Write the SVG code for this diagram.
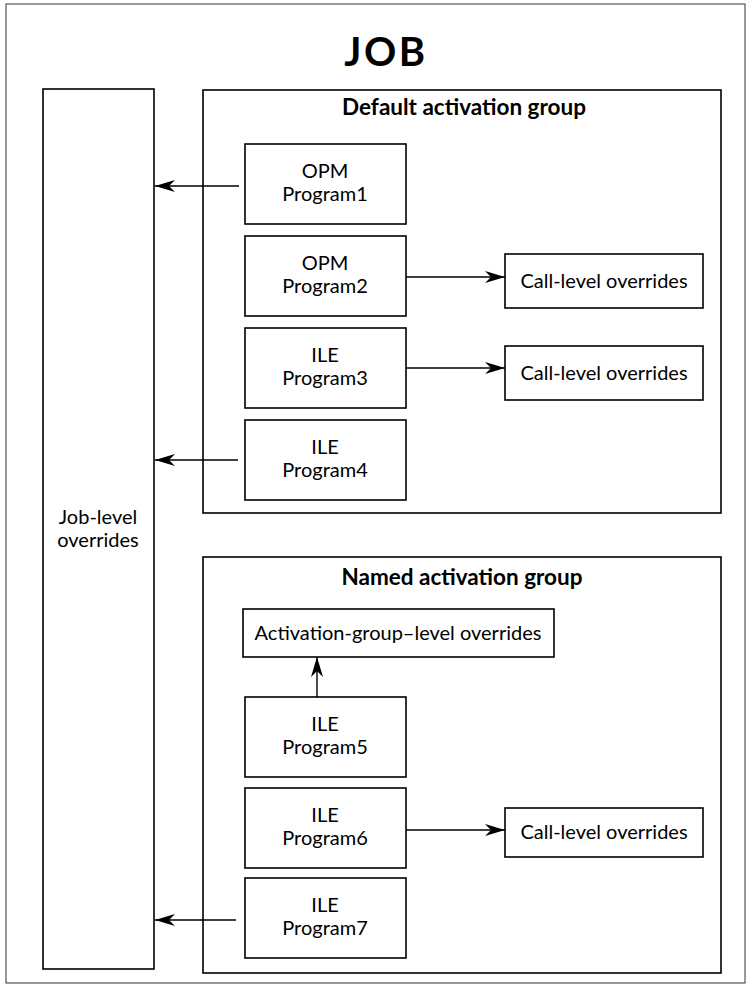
<svg xmlns="http://www.w3.org/2000/svg" width="750" height="986" viewBox="0 0 750 986">
  <style>
    text { font-family: Lato, "Open Sans", "Liberation Sans", sans-serif; fill: #000; }
    .lbl { font-size: 20px; text-anchor: middle; }
    .ttl { font-size: 22.5px; font-weight: bold; text-anchor: middle; }
    .job { font-size: 40px; font-weight: bold; text-anchor: middle; letter-spacing: 2.5px; }
    .box { fill: #fff; stroke: #000; stroke-width: 1.6; }
    .frame { fill: none; stroke: #333; stroke-width: 1; }
    .conn { fill: none; stroke: #000; stroke-width: 1.4; marker-end: url(#arrow); }
  </style>
  <defs>
    <marker id="arrow" viewBox="0 0 20 12" refX="20" refY="6" markerWidth="20" markerHeight="12" markerUnits="userSpaceOnUse" orient="auto">
      <path d="M0,0 L20,6 L0,12 L6,6 z" fill="#000"/>
    </marker>
  </defs>

  <rect width="750" height="986" fill="#fff"/>
  <!-- outer job frame -->
  <rect class="frame" x="6" y="4" width="739" height="979"/>
  <text class="job" x="386" y="66">JOB</text>

  <!-- job-level overrides column -->
  <g id="job-level">
    <rect class="box" x="43" y="89" width="111" height="880"/>
    <text class="lbl" x="98" y="524">Job-level</text>
    <text class="lbl" x="98" y="547">overrides</text>
  </g>

  <!-- default activation group -->
  <g id="default-group">
    <rect class="box" x="203" y="90" width="518" height="423"/>
    <text class="ttl" x="464" y="115">Default activation group</text>
  </g>
  <g id="program1">
    <rect class="box" x="245" y="144" width="161" height="80"/>
    <text class="lbl" x="325" y="178">OPM</text>
    <text class="lbl" x="325" y="201">Program1</text>
  </g>
  <g id="program2">
    <rect class="box" x="245" y="236" width="161" height="80"/>
    <text class="lbl" x="325" y="270">OPM</text>
    <text class="lbl" x="325" y="293">Program2</text>
  </g>
  <g id="call-overrides-2">
    <rect class="box" x="505" y="254" width="198" height="54"/>
    <text class="lbl" x="604" y="288">Call-level overrides</text>
  </g>
  <g id="program3">
    <rect class="box" x="245" y="328" width="161" height="80"/>
    <text class="lbl" x="325" y="362">ILE</text>
    <text class="lbl" x="325" y="385">Program3</text>
  </g>
  <g id="call-overrides-3">
    <rect class="box" x="505" y="346" width="198" height="54"/>
    <text class="lbl" x="604" y="380">Call-level overrides</text>
  </g>
  <g id="program4">
    <rect class="box" x="245" y="420" width="161" height="80"/>
    <text class="lbl" x="325" y="454">ILE</text>
    <text class="lbl" x="325" y="477">Program4</text>
  </g>

  <!-- named activation group -->
  <g id="named-group">
    <rect class="box" x="203" y="557" width="518" height="416"/>
    <text class="ttl" x="462" y="585">Named activation group</text>
  </g>
  <g id="group-overrides">
    <rect class="box" x="243" y="609" width="311" height="48"/>
    <text class="lbl" x="398" y="640">Activation-group–level overrides</text>
  </g>
  <g id="program5">
    <rect class="box" x="245" y="697" width="161" height="80"/>
    <text class="lbl" x="325" y="731">ILE</text>
    <text class="lbl" x="325" y="754">Program5</text>
  </g>
  <g id="program6">
    <rect class="box" x="245" y="788" width="161" height="80"/>
    <text class="lbl" x="325" y="822">ILE</text>
    <text class="lbl" x="325" y="845">Program6</text>
  </g>
  <g id="call-overrides-6">
    <rect class="box" x="505" y="808" width="198" height="49"/>
    <text class="lbl" x="604" y="839">Call-level overrides</text>
  </g>
  <g id="program7">
    <rect class="box" x="245" y="878" width="161" height="80"/>
    <text class="lbl" x="325" y="912">ILE</text>
    <text class="lbl" x="325" y="935">Program7</text>
  </g>

  <!-- connectors -->
  <g id="connectors">
    <path class="conn" d="M239,186 H155"/>
    <path class="conn" d="M406,277 H505"/>
    <path class="conn" d="M406,368 H505"/>
    <path class="conn" d="M238,460 H155"/>
    <path class="conn" d="M317,697 V657"/>
    <path class="conn" d="M406,830 H505"/>
    <path class="conn" d="M236,920 H155"/>
  </g>
</svg>
